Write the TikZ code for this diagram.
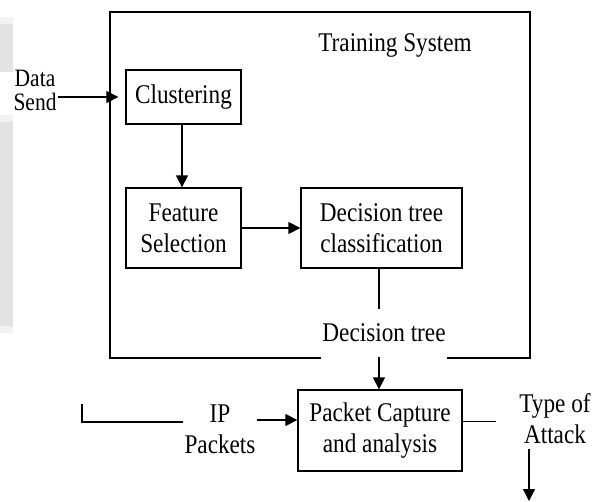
\documentclass[tikz,border=0pt]{standalone}
\usepackage{fontspec}
\setmainfont{Liberation Serif}[FakeStretch=0.86]
\usetikzlibrary{arrows.meta,calc}
\begin{document}
\begin{tikzpicture}[x=1pt,y=-1pt,
  txt/.style={font=\fontsize{27}{31}\selectfont, align=center, inner sep=1pt},
  box/.style={txt, draw, line width=1.3pt},
  ln/.style={line width=1.3pt},
  arr/.style={ln, -{Triangle[length=12pt,width=12pt]}}]
\path[use as bounding box, fill=white] (0,0) rectangle (593,501);
% gray screenshot strips at the left edge
\fill[gray!22] (0,17) rectangle (13,72);
\fill[gray!10] (0,17) rectangle (13,24);
\fill[gray!22] (0,115) rectangle (13,328);
\fill[gray!10] (0,115) rectangle (13,122);
\fill[gray!10] (0,326) rectangle (13,333);
% training system frame
\coordinate (tl) at (110,12);
\coordinate (tr) at (530,12);
\coordinate (bl) at (110,358);
\coordinate (br) at (530,358);
\node[txt] (ts) at (395,45) {Training System};
\node[txt] (dtl) at (384,333) {Decision tree};
\draw[ln] (dtl.west |- bl) -- (bl) -- (tl) -- (tr) -- (br) -- (dtl.east |- br);
% boxes
\node[box, minimum width=115, minimum height=54] (cl) at (183.5,97) {Clustering};
\node[box, minimum width=115, minimum height=80] (fs) at (183.5,228) {Feature\\Selection};
\node[box, minimum width=161, minimum height=80] (dc) at (381.5,228) {Decision tree\\classification};
\node[box, minimum width=164, minimum height=81] (pc) at (380,430.5) {Packet Capture\\and analysis};
% side labels
\node[txt, font=\fontsize{25}{24}\selectfont] (ds) at (35,90) {Data\\Send};
\node[txt] (ip) at (220,429) {IP\\Packets};
\node[txt] (ta) at (555,419) {Type of\\Attack};
\coordinate (ipin) at (82,404);
\coordinate (dtA) at (379,309);
\coordinate (dtB) at (379,357);
\coordinate (out) at (529,501);
% connectors
\draw[arr] ([yshift=-7pt]ds.east) -- ([xshift=-7pt]cl.west);
\draw[arr] (cl.south -| 182,0) -- (fs.north -| 182,0);
\draw[arr] (fs.east) -- (dc.west);
\draw[ln] (dc.south -| dtA) -- (dtA);
\draw[arr] (dtB) -- (pc.north -| dtB);
\draw[ln] (ipin) |- ([yshift=7pt]ip.west);
\draw[arr] ([yshift=9pt]ip.east) -- ([yshift=9pt]ip.east -| pc.west);
\draw[ln] ([yshift=9pt]pc.east) -- ([yshift=9pt]pc.east -| 496,0);
\draw[arr] ([yshift=-4pt]ta.south -| out) -- (out);
\end{tikzpicture}
\end{document}
